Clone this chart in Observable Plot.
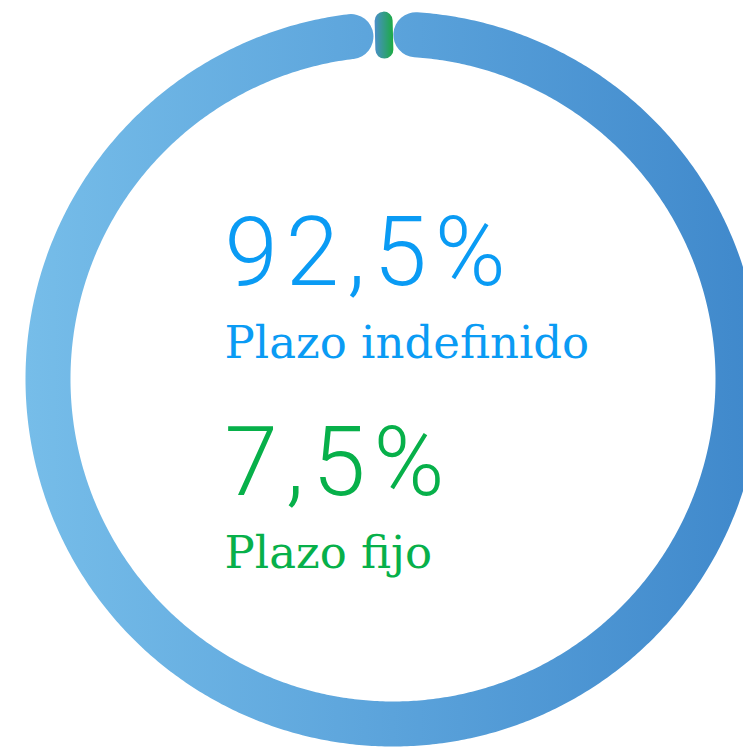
<!DOCTYPE html>
<html>
<head>
<meta charset="utf-8">
<script src="https://cdn.jsdelivr.net/npm/d3@7"></script>
<script src="https://cdn.jsdelivr.net/npm/@observablehq/plot@0.6"></script>
<style>
  html, body { margin: 0; padding: 0; background: #fff; }
  #chart svg { display: block; }
  #chart g[font-size="96"] { letter-spacing: 8px; }
</style>
</head>
<body>
<div id="chart"></div>
<script>
// ---- data ----
const categories = ["Plazo indefinido", "Plazo fijo"];
const shares = [92.5, 7.5];
const shareLabels = ["92,5%", "7,5%"];
// arc extents as drawn (degrees clockwise from 12 o'clock)
const arcStartDeg = [3.8, -1.5];
const arcEndDeg = [353, -1.5];

// ---- styles ----
const textColors = ["#0a9bf4", "#07b04a"];

const W = 743, H = 748;
const cx = 392.5, cy = 378.5, R = 345; // ring mid-radius in px
const ringWidth = 45;
const rad = d => d * Math.PI / 180;

// blue ring as polyline in unit-circle coordinates
const bluePts = d3.range(arcStartDeg[0], arcEndDeg[0] + 0.001, 0.5)
  .map(a => ({x: Math.sin(rad(a)), y: Math.cos(rad(a))}));
bluePts.push({x: Math.sin(rad(arcEndDeg[0])), y: Math.cos(rad(arcEndDeg[0]))});

// green marker: short radial link across the ring
const capR = 9;
const rIn = (R - ringWidth / 2 + capR - 2) / R, rOut = (R + ringWidth / 2 - capR) / R;
const ga = rad(arcStartDeg[1]);
const greenSeg = [{x1: rIn * Math.sin(ga), y1: rIn * Math.cos(ga), x2: rOut * Math.sin(ga), y2: rOut * Math.cos(ga)}];

const rows = categories.map((c, i) => ({category: c, share: shares[i], label: shareLabels[i]}));

const svg = Plot.plot({
  width: W, height: H,
  margin: 0,
  style: {background: "white", overflow: "visible"},
  x: {domain: [-1, 1], range: [cx - R, cx + R], axis: null},
  y: {domain: [-1, 1], range: [cy + R, cy - R], axis: null},
  marks: [
    Plot.line(bluePts, {x: "x", y: "y", stroke: "url(#ringGrad)", strokeWidth: ringWidth, strokeLinecap: "round", curve: "linear"}),
    Plot.link(greenSeg, {x1: "x1", y1: "y1", x2: "x2", y2: "y2", stroke: "url(#greenGrad)", strokeWidth: 2 * capR, strokeLinecap: "round"}),
    Plot.text([rows[0]], {text: "label", frameAnchor: "top-left", dx: 224, dy: 284, textAnchor: "start", lineAnchor: "bottom", fill: textColors[0], fontSize: 96, fontFamily: "Roboto", fontWeight: 300}),
    Plot.text([rows[0]], {text: "category", frameAnchor: "top-left", dx: 224, dy: 357, textAnchor: "start", lineAnchor: "bottom", fill: textColors[0], fontSize: 45, fontFamily: "DejaVu Serif"}),
    Plot.text([rows[1]], {text: "label", frameAnchor: "top-left", dx: 224, dy: 494, textAnchor: "start", lineAnchor: "bottom", fill: textColors[1], fontSize: 96, fontFamily: "Roboto", fontWeight: 300}),
    Plot.text([rows[1]], {text: "category", frameAnchor: "top-left", dx: 224, dy: 567, textAnchor: "start", lineAnchor: "bottom", fill: textColors[1], fontSize: 45, fontFamily: "DejaVu Serif"})
  ]
});

const defs = d3.select(svg).insert("defs", ":first-child");
const g1 = defs.append("linearGradient").attr("id", "ringGrad").attr("gradientUnits", "userSpaceOnUse")
  .attr("x1", cx - R - ringWidth / 2).attr("x2", cx + R + ringWidth / 2).attr("y1", 0).attr("y2", 0);
g1.append("stop").attr("offset", 0).attr("stop-color", "#76bde9");
g1.append("stop").attr("offset", 0.5).attr("stop-color", "#5ba3db");
g1.append("stop").attr("offset", 1).attr("stop-color", "#3f88cb");
const g2 = defs.append("linearGradient").attr("id", "greenGrad").attr("gradientUnits", "userSpaceOnUse")
  .attr("x1", cx + R * Math.sin(ga) - capR).attr("x2", cx + R * Math.sin(ga) + capR).attr("y1", 0).attr("y2", 0);
g2.append("stop").attr("offset", 0).attr("stop-color", "#4a8fc8");
g2.append("stop").attr("offset", 1).attr("stop-color", "#1daa45");

document.getElementById("chart").appendChild(svg);
</script>
</body>
</html>
